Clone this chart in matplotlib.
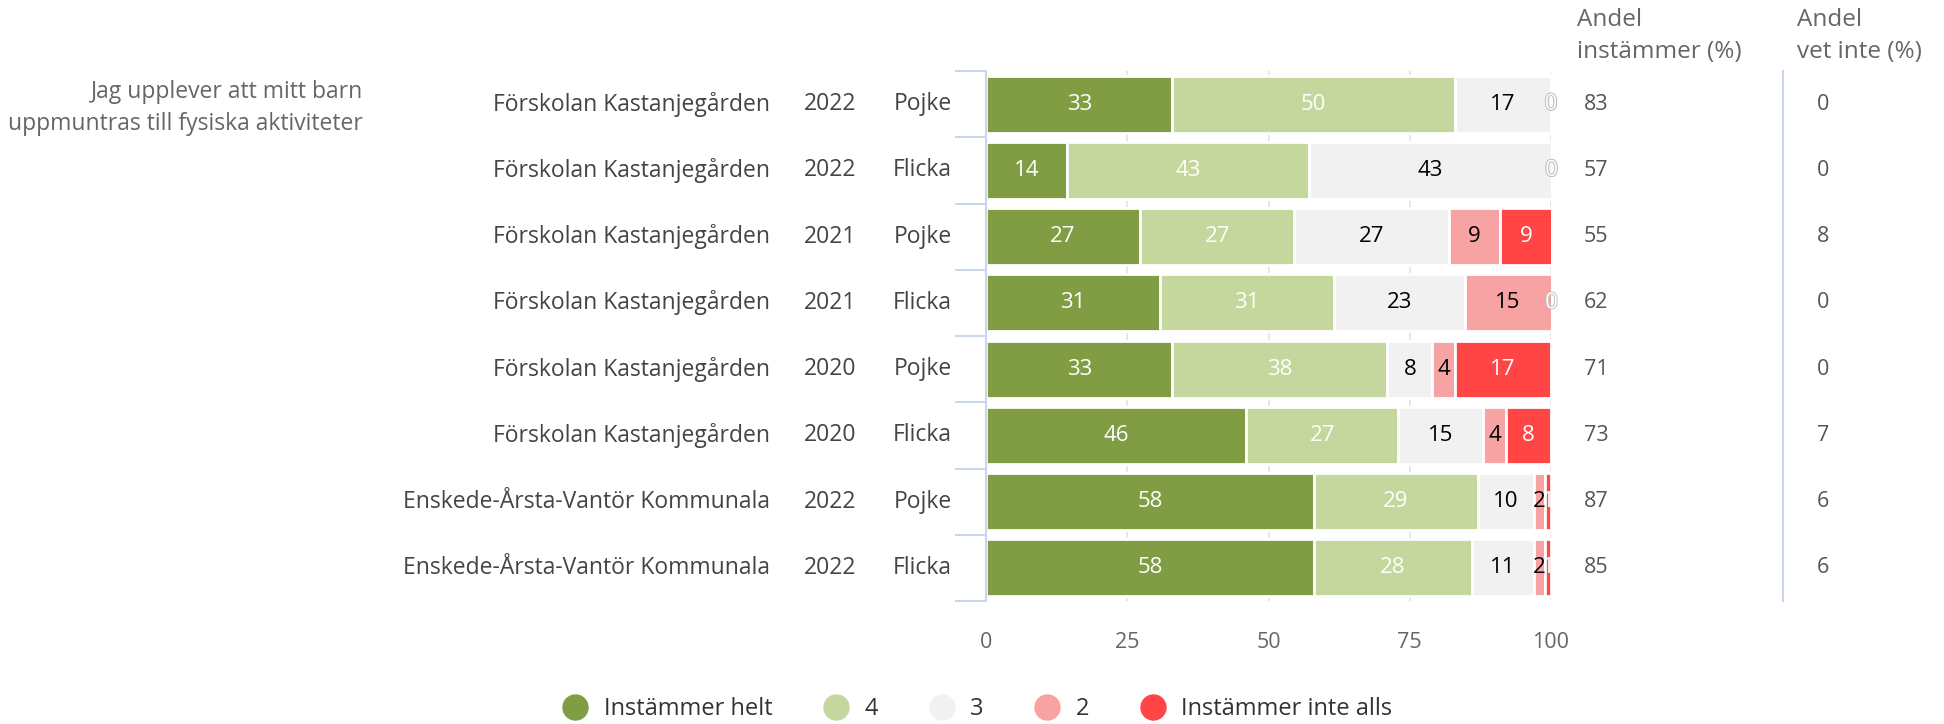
import matplotlib
matplotlib.use("Agg")
import matplotlib.pyplot as plt
import matplotlib.patheffects as pe
from matplotlib.lines import Line2D
from matplotlib.transforms import blended_transform_factory

plt.rcParams['font.family'] = ['Open Sans', 'DejaVu Sans']

# Svarsfördelning per grupp (andel i %)
question = "Jag upplever att mitt barn\nuppmuntras till fysiska aktiviteter"
schools = ["Förskolan Kastanjegården"] * 6 + ["Enskede-Årsta-Vantör Kommunala"] * 2
years = ["2022", "2022", "2021", "2021", "2020", "2020", "2022", "2022"]
genders = ["Pojke", "Flicka", "Pojke", "Flicka", "Pojke", "Flicka", "Pojke", "Flicka"]

series_names = ["Instämmer helt", "4", "3", "2", "Instämmer inte alls"]
helt = [33, 14.3, 27.3, 30.8, 33, 46, 58, 58]
fyra = [50, 42.9, 27.3, 30.8, 38, 27, 29, 28]
tre = [17, 42.9, 27.3, 23.1, 8, 15, 10, 11]
tva = [0, 0, 9.1, 15.4, 4, 4, 2, 2]
inte_alls = [0, 0, 9.1, 0, 17, 8, 1, 1]

andel_instammer = [83, 57, 55, 62, 71, 73, 87, 85]
andel_vet_inte = [0, 0, 8, 0, 0, 7, 6, 6]

colors = ["#819d44", "#c5d79d", "#f1f1f1", "#f8a3a3", "#ff4545"]
label_colors = ["white", "white", "black", "black", "white"]

fig = plt.figure(figsize=(19.44, 7.24), dpi=100)
ax = fig.add_axes([986 / 1944, 123 / 724, 565 / 1944, 530 / 724])

n = len(schools)
rows = list(range(n))
left = [0.0] * n
for values, color, lc in zip([helt, fyra, tre, tva, inte_alls], colors, label_colors):
    ax.barh(rows, values, left=left, height=0.86, color=color,
            edgecolor="white", linewidth=2, zorder=2)
    for i, v in enumerate(values):
        cx = left[i] + v / 2
        txt = ax.text(cx, i, f"{v:.0f}", ha="center", va="center",
                      fontsize=16, color=lc, zorder=3)
        if v == 0:
            txt.set_color("white")
            txt.set_path_effects([pe.withStroke(linewidth=1.2, foreground="#bbbbbb")])
    left = [l + v for l, v in zip(left, values)]

ax.set_xlim(0, 100)
ax.set_ylim(n - 0.5, -0.5)
ax.set_xticks([0, 25, 50, 75, 100])
ax.tick_params(axis="x", length=0, pad=22, labelsize=15.5, labelcolor="#666666")
ax.set_yticks([r - 0.5 for r in range(n + 1)])
ax.set_yticklabels([])
ax.tick_params(axis="y", length=22, width=1.5, color="#ccd6eb", direction="out")
ax.grid(axis="x", color="#e3e3e3", linewidth=1.2, zorder=0)
for side in ["top", "right", "bottom"]:
    ax.spines[side].set_visible(False)
ax.spines["left"].set_color("#ccd6eb")
ax.spines["left"].set_linewidth(1.5)

# kategorietiketter till vänster och kolumnerna till höger
tr = blended_transform_factory(fig.transFigure, ax.transData)
for i in rows:
    fig.text(770 / 1944, i, schools[i], transform=tr, ha="right", va="center",
             fontsize=16.5, color="#444444")
    fig.text(856 / 1944, i, years[i], transform=tr, ha="right", va="center",
             fontsize=16.5, color="#444444")
    fig.text(952 / 1944, i, genders[i], transform=tr, ha="right", va="center",
             fontsize=16.5, color="#444444")
    fig.text(1584 / 1944, i, str(andel_instammer[i]), transform=tr, ha="left",
             va="center", fontsize=15.5, color="#555555")
    fig.text(1817 / 1944, i, str(andel_vet_inte[i]), transform=tr, ha="left",
             va="center", fontsize=15.5, color="#555555")

fig.text(363 / 1944, 1 - 108 / 724, question, ha="right", va="center",
         fontsize=16.5, color="#666666", linespacing=1.45)
fig.text(1577 / 1944, 1 - 36 / 724, "Andel\ninstämmer (%)", ha="left", va="center",
         fontsize=17.5, color="#666666", linespacing=1.4)
fig.text(1797 / 1944, 1 - 36 / 724, "Andel\nvet inte (%)", ha="left", va="center",
         fontsize=17.5, color="#666666", linespacing=1.4)

sep_tr = blended_transform_factory(fig.transFigure, ax.transAxes)
fig.add_artist(Line2D([1783 / 1944, 1783 / 1944], [0, 1], transform=sep_tr,
                      color="#ccd6eb", linewidth=1.5))

handles = [Line2D([], [], marker="o", ls="", markersize=18, markerfacecolor=c,
                  markeredgecolor=c) for c in colors]
fig.legend(handles, series_names, loc="center", bbox_to_anchor=(0.503, 1 - 709 / 724),
           ncol=5, frameon=False, fontsize=17, handlelength=1, handletextpad=0.7,
           columnspacing=2.2, labelcolor="#333333")

fig.savefig("out.png", dpi=100, facecolor="white")
